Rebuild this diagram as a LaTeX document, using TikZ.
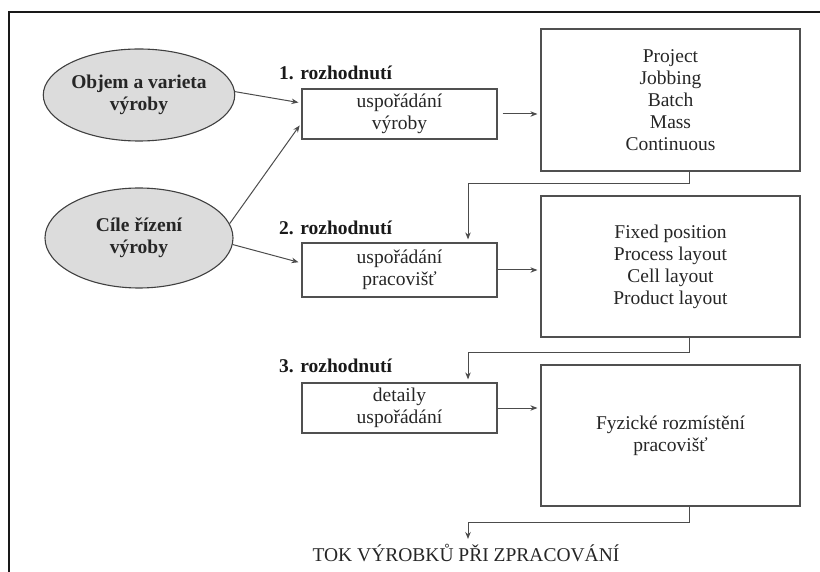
\documentclass[tikz,border=0pt]{standalone}
\usepackage{fontspec}
\setmainfont{Liberation Serif}
\usetikzlibrary{shapes.geometric,arrows.meta}
\definecolor{edge}{HTML}{505050}
\definecolor{ovalfill}{HTML}{DCDCDC}
\tikzset{
  txt/.style={font=\fontsize{19.5}{22}\selectfont, align=center, text=black!85},
  oval/.style={ellipse, draw=black!75, line width=1.1pt, fill=ovalfill, inner sep=0pt,
    minimum width=188pt, minimum height=92pt,
    font=\fontsize{19.5}{22}\selectfont\bfseries, align=center, text=black!85},
  smallbox/.style={draw=edge, line width=1.2pt, inner sep=0pt, minimum width=195pt,
    txt},
  bigbox/.style={draw=edge, line width=1.2pt, inner sep=0pt, minimum width=259pt,
    txt},
  decision/.style={anchor=west, inner sep=0pt, text=black!90,
    font=\fontsize{19.5}{22}\selectfont\bfseries},
  conn/.style={draw=black!70, line width=1pt, -{Stealth[length=7pt,width=5.5pt]}},
}
\begin{document}
\begin{tikzpicture}[x=1pt,y=-1pt]
\useasboundingbox (0,0) rectangle (820,572);
% frame
\draw[line width=2pt, black!90] (8.5,572) -- (8.5,12.5) -- (820,12.5);

% input ovals
\node[oval] (obj) at (139,95) {Objem a varieta\\výroby};
\node[oval, minimum height=100pt] (cil) at (139,238) {Cíle řízení\\výroby};

% decision labels
\node[decision] (d1) at (279,73) {1. rozhodnutí};
\node[decision] (d2) at (279,228) {2. rozhodnutí};
\node[decision] (d3) at (279,366) {3. rozhodnutí};

% decision boxes
\node[smallbox, minimum height=50pt] (b1) at (399.5,114) {uspořádání\\výroby};
\node[smallbox, minimum height=54pt] (b2) at (399.5,270) {uspořádání\\pracovišť};
\node[smallbox, minimum height=50pt] (b3) at (399.5,408) {detaily\\uspořádání};

% outcome boxes
\node[bigbox, minimum height=142pt] (B1) at (670.5,100) {Project\\Jobbing\\Batch\\Mass\\Continuous};
\node[bigbox, minimum height=141pt] (B2) at (670.5,266.5) {Fixed position\\Process layout\\Cell layout\\Product layout};
\node[bigbox, minimum height=141pt] (B3) at (670.5,435.5) {Fyzické rozmístění\\pracovišť};

% final flow label
\node[txt, inner sep=1pt] (tok) at (466,553) {TOK VÝROBKŮ PŘI ZPRACOVÁNÍ};

% ovals to decision boxes
\draw[conn, shorten >=3pt] (obj.2) -- ([yshift=11pt]b1.west);
\draw[conn, shorten >=3pt] (cil.9) -- ([yshift=-9pt]b1.west);
\draw[conn, shorten >=3pt] (cil.-4) -- ([yshift=7pt]b2.west);

% decision boxes to outcome boxes
\draw[conn, shorten <=5pt, shorten >=3pt] (b1.east) -- (B1.west |- b1.east);
\draw[conn, shorten >=3pt] (b2.east) -- (B2.west |- b2.east);
\draw[conn, shorten >=3pt] (b3.east) -- (B3.west |- b3.east);

% outcome boxes down to next decision
\draw[conn, shorten >=3pt] ([xshift=18.5pt]B1.south) -- ++(0,12) -| ([xshift=68.5pt]b2.north);
\draw[conn, shorten >=3pt] ([xshift=18.5pt]B2.south) -- ++(0,15) -| ([xshift=68.5pt]b3.north);
\draw[conn, shorten >=4pt] ([xshift=18.5pt]B3.south) -- ++(0,16) -| (tok.north -| 468,0);
\end{tikzpicture}
\end{document}
